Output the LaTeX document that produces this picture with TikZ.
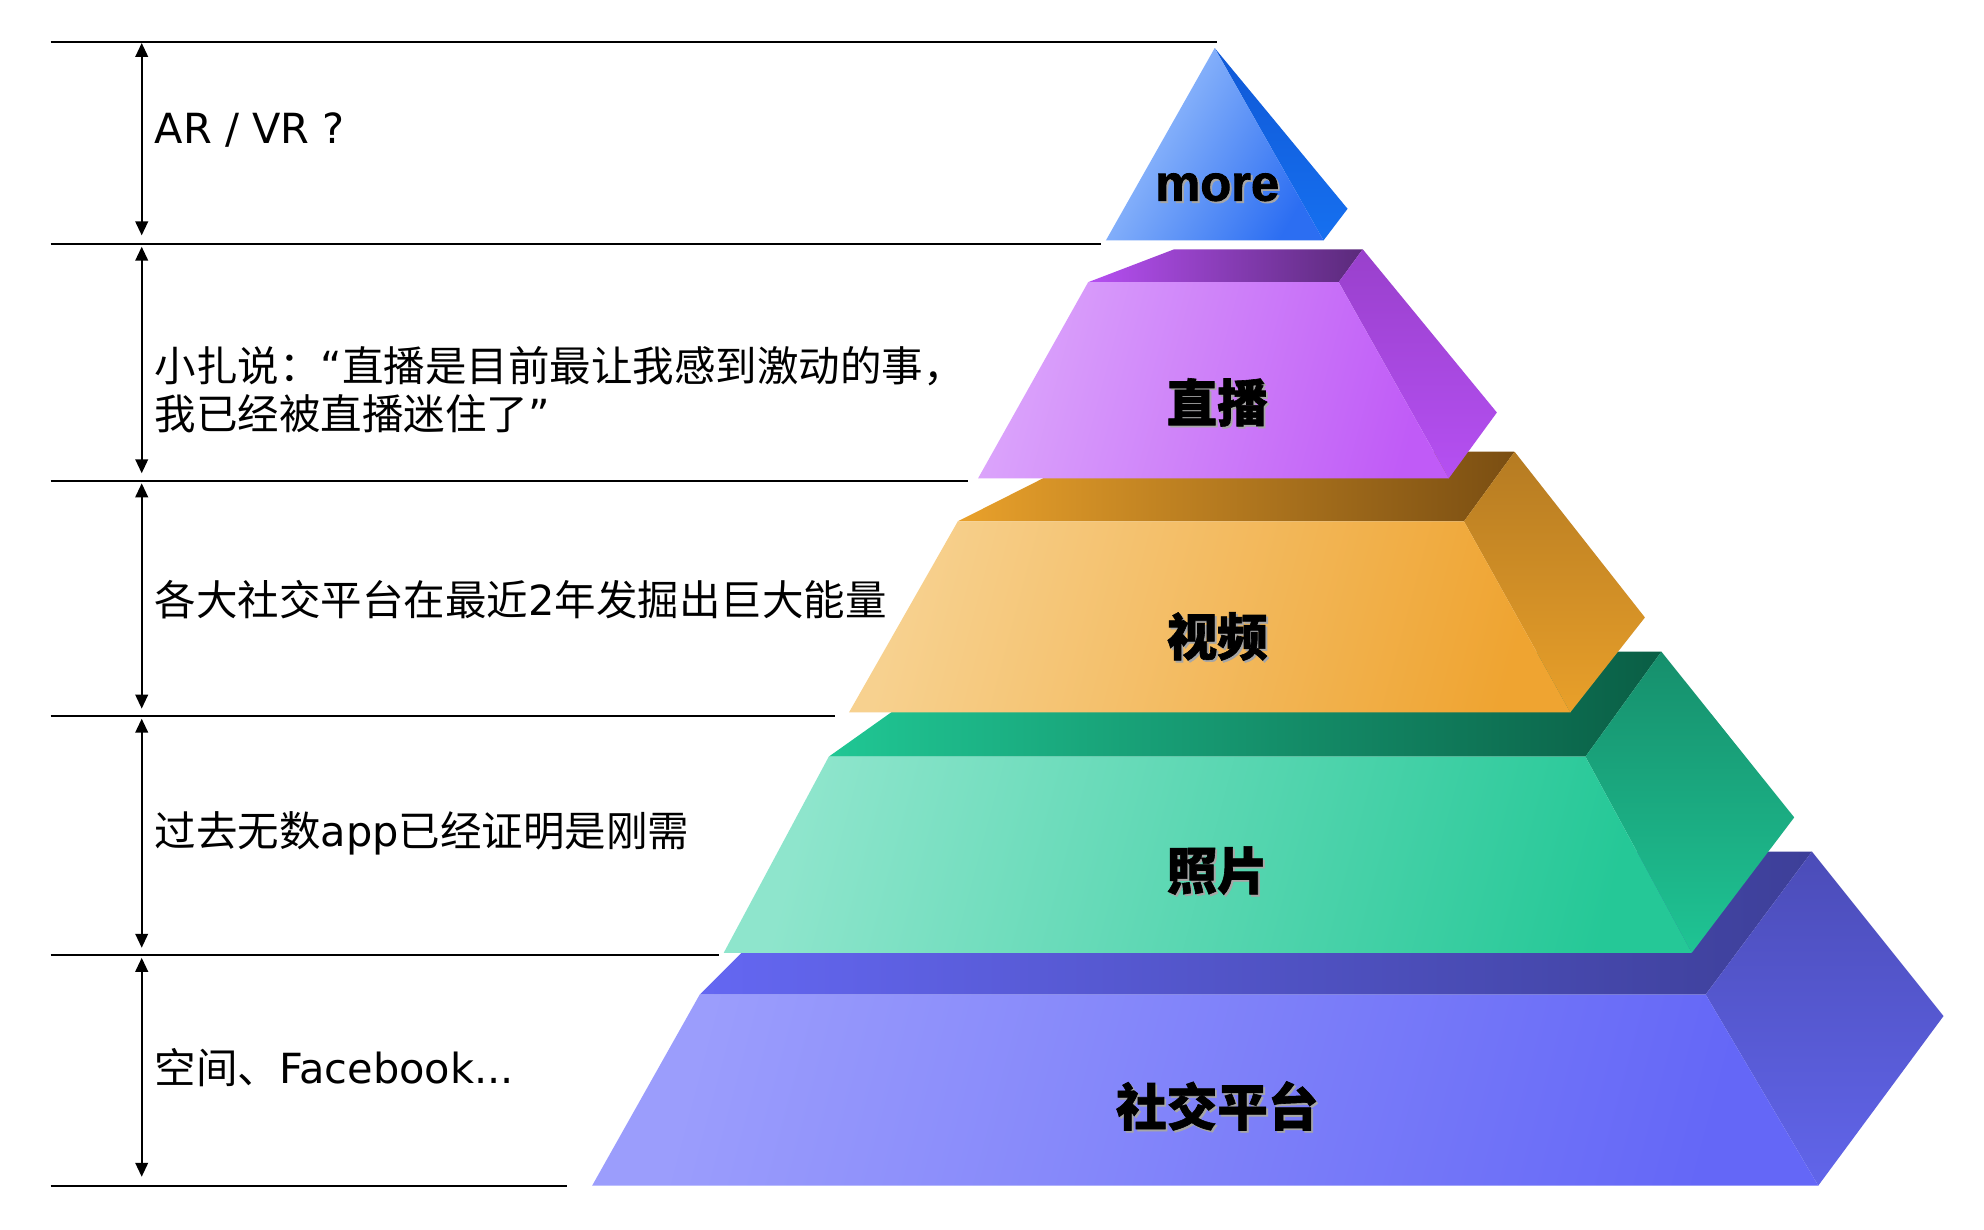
\documentclass[tikz,border=0pt]{standalone}
\usepackage{fontspec}
\setmainfont{Liberation Sans}
\newfontfamily\cjk{Noto Sans CJK SC}
\newfontfamily\lat{DejaVu Sans}
\newfontfamily\cjkheavy[BoldFeatures={FakeBold=1.2}]{Noto Sans CJK SC}
\newfontfamily\heavy[BoldFeatures={FakeBold=1.8}]{Liberation Sans}
\usetikzlibrary{arrows.meta}
\definecolor{bfA}{HTML}{A2C6FD}\definecolor{bfB}{HTML}{2C6EF2}
\definecolor{bsA}{HTML}{0F58D6}\definecolor{bsB}{HTML}{1670F0}
\definecolor{pfA}{HTML}{DBA4FB}\definecolor{pfB}{HTML}{C05BF7}
\definecolor{ptA}{HTML}{B64FF2}\definecolor{ptB}{HTML}{5A2A7A}
\definecolor{psA}{HTML}{9940CC}\definecolor{psB}{HTML}{B550F2}
\definecolor{ofA}{HTML}{F7D18F}\definecolor{ofB}{HTML}{EFA431}
\definecolor{otA}{HTML}{E9A12B}\definecolor{otB}{HTML}{7A4E12}
\definecolor{osA}{HTML}{B57B22}\definecolor{osB}{HTML}{E9A02A}
\definecolor{gfA}{HTML}{8EE5CC}\definecolor{gfB}{HTML}{25C897}
\definecolor{gtA}{HTML}{20C794}\definecolor{gtB}{HTML}{0A5E45}
\definecolor{gsA}{HTML}{168F6C}\definecolor{gsB}{HTML}{1FC494}
\definecolor{vfA}{HTML}{9B9DFC}\definecolor{vfB}{HTML}{6467F7}
\definecolor{vtA}{HTML}{6467F2}\definecolor{vtB}{HTML}{3D3F98}
\definecolor{vsA}{HTML}{4B4CB8}\definecolor{vsB}{HTML}{6165EA}
\tikzset{
  sepline/.style={line width=1.5pt, black},
  dimarrow/.style={line width=1.4pt, {Triangle[length=11pt,width=10pt]}-{Triangle[length=11pt,width=10pt]}},
  lefttext/.style={anchor=west, inner sep=0pt, font=\cjk\fontsize{32.8}{38}\selectfont, align=left},
  tierlabel/.style={inner sep=0pt, font=\cjkheavy\bfseries\fontsize{40}{44}\selectfont},
  tiershadow/.style={tierlabel, text=black!35},
}
\begin{document}
\begin{tikzpicture}[x=1pt,y=-1pt]
\useasboundingbox (0,0) rectangle (1568,972);
\fill[white] (0,0) rectangle (1568,972);

% ---- bottom tier (violet) ----
\shade[left color=vtA, right color=vtB] (553,786) -- (666,673) -- (1432,673) -- (1348,786) -- cycle;
\shade[top color=vsA, bottom color=vsB] (1348,786) -- (1432,673) -- (1536,803) -- (1437,937) -- cycle;
\shade[left color=vfA, right color=vfB, shading angle=75] (553,786) -- (1348,786) -- (1437,937) -- (468,937) -- cycle;

% ---- green tier ----
\shade[left color=gtA, right color=gtB] (655,598) -- (772,515) -- (1313,515) -- (1253,598) -- cycle;
\shade[top color=gsA, bottom color=gsB] (1253,598) -- (1313,515) -- (1418,646) -- (1337,753) -- cycle;
\shade[left color=gfA, right color=gfB, shading angle=75] (655,598) -- (1253,598) -- (1337,753) -- (572,753) -- cycle;

% ---- orange tier ----
\shade[left color=otA, right color=otB] (757,412) -- (866,357) -- (1197,357) -- (1157,412) -- cycle;
\shade[top color=osA, bottom color=osB] (1157,412) -- (1197,357) -- (1300,488) -- (1241,563) -- cycle;
\shade[left color=ofA, right color=ofB, shading angle=75] (757,412) -- (1157,412) -- (1241,563) -- (671,563) -- cycle;

% ---- purple tier ----
\shade[left color=ptA, right color=ptB] (860,223) -- (928,197) -- (1077,197) -- (1058,223) -- cycle;
\shade[top color=psA, bottom color=psB] (1058,223) -- (1077,197) -- (1183,326) -- (1145,378) -- cycle;
\shade[left color=pfA, right color=pfB, shading angle=75] (860,223) -- (1058,223) -- (1145,378) -- (773,378) -- cycle;

% ---- top pyramid (blue) ----
\shade[top color=bsA, bottom color=bsB] (960,38) -- (1065,165) -- (1046,190) -- cycle;
\shade[left color=bfA, right color=bfB, shading angle=60] (960,38) -- (1046,190) -- (874,190) -- cycle;

% ---- tier labels (with soft shadow) ----
\node[tiershadow, font=\heavy\bfseries\fontsize{40}{44}\selectfont] (smore) at (963.5,149.5) {more};
\node[tierlabel, font=\heavy\bfseries\fontsize{40}{44}\selectfont] (lmore) at (962,148) {more};
\node[tiershadow] (slive) at (963.5,319.5) {直播};
\node[tierlabel] (llive) at (962,318) {直播};
\node[tiershadow] (svideo) at (963.5,504.5) {视频};
\node[tierlabel] (lvideo) at (962,503) {视频};
\node[tiershadow] (sphoto) at (963.5,689.5) {照片};
\node[tierlabel] (lphoto) at (962,688) {照片};
\node[tiershadow] (ssocial) at (963.5,875.5) {社交平台};
\node[tierlabel] (lsocial) at (962,874) {社交平台};

% ---- separator lines ----
\coordinate (s1a) at (40,33);  \coordinate (s1b) at (962,33);
\coordinate (s2a) at (40,193); \coordinate (s2b) at (870,193);
\coordinate (s3a) at (40,380); \coordinate (s3b) at (765,380);
\coordinate (s4a) at (40,566); \coordinate (s4b) at (660,566);
\coordinate (s5a) at (40,755); \coordinate (s5b) at (568,755);
\coordinate (s6a) at (40,937); \coordinate (s6b) at (448,937);
\draw[sepline] (s1a) -- (s1b);
\draw[sepline] (s2a) -- (s2b);
\draw[sepline] (s3a) -- (s3b);
\draw[sepline] (s4a) -- (s4b);
\draw[sepline] (s5a) -- (s5b);
\draw[sepline] (s6a) -- (s6b);

% ---- dimension arrows ----
\coordinate (a1t) at (112,34);  \coordinate (a1b) at (112,186);
\coordinate (a2t) at (112,195); \coordinate (a2b) at (112,374);
\coordinate (a3t) at (112,382); \coordinate (a3b) at (112,560);
\coordinate (a4t) at (112,568); \coordinate (a4b) at (112,749);
\coordinate (a5t) at (112,757); \coordinate (a5b) at (112,930);
\draw[dimarrow] (a1t) -- (a1b);
\draw[dimarrow] (a2t) -- (a2b);
\draw[dimarrow] (a3t) -- (a3b);
\draw[dimarrow] (a4t) -- (a4b);
\draw[dimarrow] (a5t) -- (a5b);

% ---- left texts ----
\node[lefttext] (t1) at (122,103) {\lat AR / VR ?};
\node[lefttext] (t2) at (122,308) {小扎说：{\lat “}直播是目前最让我感到激动的事，\\我已经被直播迷住了{\lat ”}};
\node[lefttext] (t3) at (122,474) {各大社交平台在最近{\lat 2}年发掘出巨大能量};
\node[lefttext] (t4) at (122,659) {过去无数{\lat app}已经证明是刚需};
\node[lefttext] (t5) at (122,844) {空间、{\lat Facebook...}};
\end{tikzpicture}
\end{document}
